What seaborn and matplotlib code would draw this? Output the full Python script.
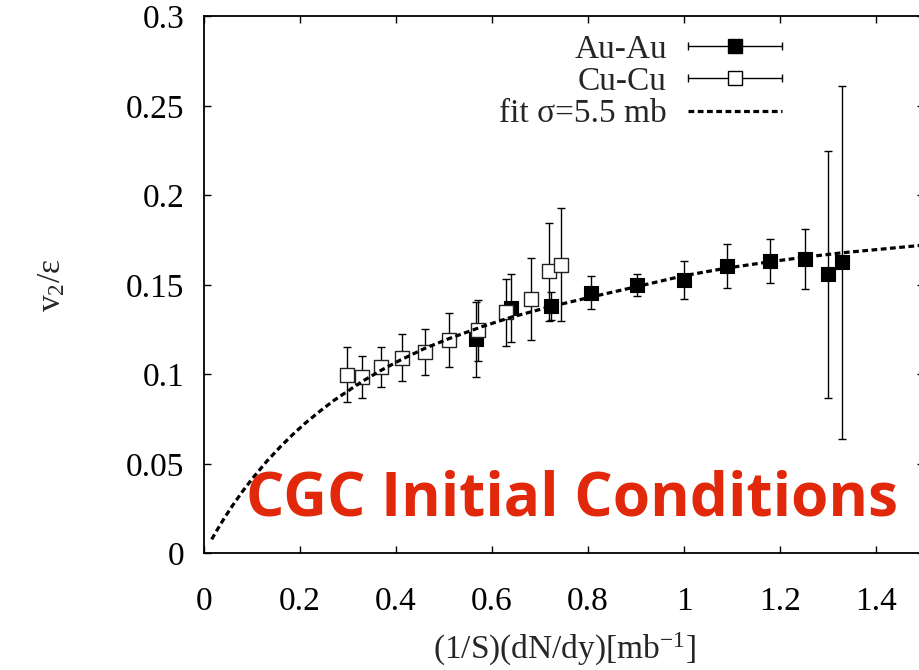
import matplotlib
matplotlib.use("Agg")
import matplotlib.pyplot as plt
import seaborn as sns
import pandas as pd
from matplotlib.lines import Line2D
from matplotlib.legend_handler import HandlerBase

# Au-Au points (value, lower and upper end of the error bar)
au_x = [0.567, 0.640, 0.723, 0.807, 0.901, 0.999, 1.090, 1.179, 1.253, 1.299, 1.330]
au_y = [0.1197, 0.1370, 0.1381, 0.1454, 0.1498, 0.1528, 0.1606, 0.1634, 0.1644, 0.1560, 0.1628]
au_lo = [0.0988, 0.1180, 0.1304, 0.1364, 0.1437, 0.1422, 0.1482, 0.1513, 0.1479, 0.0867, 0.0640]
au_hi = [0.1407, 0.1563, 0.1463, 0.1549, 0.1560, 0.1632, 0.1731, 0.1755, 0.1813, 0.2249, 0.2612]

# Cu-Cu points
cu_x = [0.2985, 0.329, 0.369, 0.413, 0.460, 0.510, 0.571, 0.629, 0.681, 0.719, 0.744]
cu_y = [0.0999, 0.0986, 0.1044, 0.1094, 0.1126, 0.1193, 0.1249, 0.1349, 0.1422, 0.1577, 0.1613]
cu_lo = [0.0845, 0.0869, 0.0930, 0.0962, 0.0997, 0.1044, 0.1077, 0.1159, 0.1193, 0.1301, 0.1299]
cu_hi = [0.1154, 0.1103, 0.1155, 0.1225, 0.1253, 0.1342, 0.1416, 0.1534, 0.1649, 0.1846, 0.1930]

# fit curve, sigma = 5.5 mb
fit_x = [0.016, 0.025, 0.035, 0.045, 0.06, 0.08, 0.10, 0.13, 0.16, 0.185, 0.21, 0.24, 0.27,
         0.30, 0.33, 0.37, 0.41, 0.46, 0.51, 0.58, 0.64, 0.72, 0.81, 0.90, 1.00, 1.09,
         1.18, 1.25, 1.33, 1.41, 1.50]
fit_y = [0.0079, 0.0121, 0.0166, 0.0209, 0.0270, 0.0346, 0.0416, 0.0513, 0.0599, 0.0665,
         0.0726, 0.0792, 0.0854, 0.0908, 0.0962, 0.1025, 0.1082, 0.1146, 0.1200, 0.1268,
         0.132, 0.1378, 0.1435, 0.1490, 0.1552, 0.1595, 0.163, 0.1655, 0.168, 0.170, 0.1723]

xticks = [0, 0.2, 0.4, 0.6, 0.8, 1.0, 1.2, 1.4]
xtick_labels = ["0", "0.2", "0.4", "0.6", "0.8", "1", "1.2", "1.4"]
yticks = [0, 0.05, 0.1, 0.15, 0.2, 0.25, 0.3]
ytick_labels = ["0", "0.05", "0.1", "0.15", "0.2", "0.25", "0.3"]

au = pd.DataFrame({"x": au_x, "y": au_y, "lo": au_lo, "hi": au_hi})
cu = pd.DataFrame({"x": cu_x, "y": cu_y, "lo": cu_lo, "hi": cu_hi})
fit = pd.DataFrame({"x": fit_x, "y": fit_y})

sns.set_theme(style="ticks")
plt.rcParams["font.family"] = ["Liberation Serif", "DejaVu Serif"]
plt.rcParams["mathtext.fontset"] = "custom"
plt.rcParams["mathtext.rm"] = "Liberation Serif"
plt.rcParams["mathtext.it"] = "Liberation Serif:italic"
plt.rcParams["mathtext.default"] = "rm"


class GnuKey(HandlerBase):
    # gnuplot style key sample: |----[]----|
    def __init__(self, face):
        super().__init__()
        self.face = face

    def create_artists(self, legend, orig_handle, xdescent, ydescent,
                       width, height, fontsize, trans):
        y = (height - ydescent) / 2
        x0, x1 = -xdescent, -xdescent + width
        bar = Line2D([x0, x1], [y, y], color="black", lw=1.0)
        caps = Line2D([x0, x1], [y, y], ls="none", marker="|", ms=6,
                      mew=1.0, color="black")
        box = Line2D([(x0 + x1) / 2], [y], ls="none", marker="s", ms=9.5,
                     mfc=self.face, mec="black", mew=1.0)
        for a in (bar, caps, box):
            a.set_transform(trans)
        return [bar, caps, box]


fig = plt.figure(figsize=(9.19, 6.70), dpi=100)
ax = fig.add_axes([0.222, 0.1739, 0.7835, 0.8015])

ax.errorbar(au["x"], au["y"], yerr=[au["y"] - au["lo"], au["hi"] - au["y"]],
            fmt="none", ecolor="black", elinewidth=1.0, capsize=3, capthick=1.0, zorder=2)
sns.scatterplot(data=au, x="x", y="y", marker="s", s=90, color="black",
                edgecolor="black", linewidth=0.8, ax=ax, zorder=3)
au_pts = ax.collections[-1]

ax.errorbar(cu["x"], cu["y"], yerr=[cu["y"] - cu["lo"], cu["hi"] - cu["y"]],
            fmt="none", ecolor="black", elinewidth=1.0, capsize=3, capthick=1.0, zorder=2)
sns.scatterplot(data=cu, x="x", y="y", marker="s", s=90, color="white",
                edgecolor="#222222", linewidth=1.0, ax=ax, zorder=3)
cu_pts = ax.collections[-1]

sns.lineplot(data=fit, x="x", y="y", color="black", lw=2.3, ax=ax, zorder=4,
             estimator=None, sort=False)
fit_line = ax.lines[-1]
fit_line.set_dashes((1.8, 1.1))

ax.text(0.766, 0.0215, "CGC Initial Conditions", color="#e1280b",
        fontsize=43.5, fontweight="bold", family=["Open Sans", "DejaVu Sans"],
        ha="center", va="baseline", zorder=5)

ax.set_xlim(0, 1.5)
ax.set_ylim(0, 0.3)
ax.set_xticks(xticks)
ax.set_xticklabels(xtick_labels)
ax.set_yticks(yticks)
ax.set_yticklabels(ytick_labels)
ax.tick_params(direction="in", top=True, right=True, length=5, width=1.0,
               labelsize=24, pad=14, colors="black")
ax.tick_params(axis="x", pad=24)
for sp in ax.spines.values():
    sp.set_linewidth(1.3)
    sp.set_color("black")

ax.set_xlabel(r"(1/S)(dN/dy)[mb$^{\mathrm{-1}}$]", fontsize=24)
ax.set_ylabel(r"v$_2$/ε", fontsize=24)
ax.xaxis.set_label_coords(0.5, -0.145)
ax.yaxis.set_label_coords(-0.19, 0.5)

ax.legend([au_pts, cu_pts, fit_line], ["Au-Au", "Cu-Cu", "fit σ=5.5 mb"],
          handler_map={au_pts: GnuKey("black"), cu_pts: GnuKey("white")},
          loc="upper right", bbox_to_anchor=(1.204, 0.290),
          bbox_transform=ax.transData, frameon=False, markerfirst=False,
          fontsize=24, handlelength=2.82, handletextpad=0.63,
          labelspacing=0.05, borderpad=0, borderaxespad=0)

fig.savefig("out.png", dpi=100)
